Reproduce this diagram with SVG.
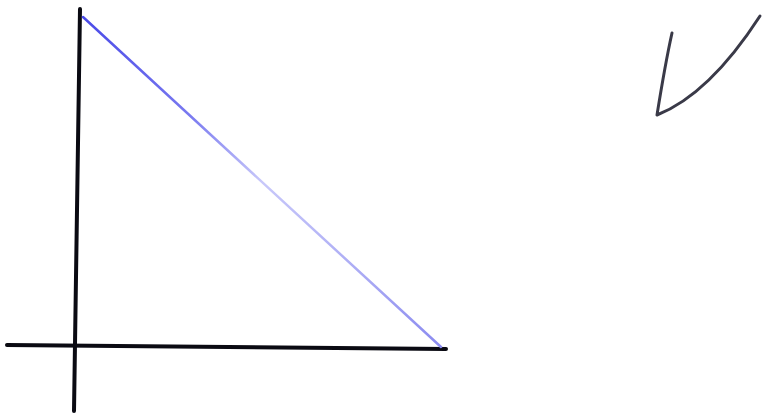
<svg xmlns="http://www.w3.org/2000/svg" width="766" height="415" viewBox="0 0 766 415">
<defs>
<linearGradient id="bl" gradientUnits="userSpaceOnUse" x1="83" y1="17" x2="441" y2="348">
<stop offset="0" stop-color="#4a4ae8"/>
<stop offset="0.3" stop-color="#7a7af0"/>
<stop offset="0.5" stop-color="#c8c8fa"/>
<stop offset="0.8" stop-color="#a8a8f4"/>
<stop offset="1" stop-color="#8a8af0"/>
</linearGradient>
</defs>
<style>
.ax{stroke:#0a0a12;stroke-width:4;stroke-linecap:round;fill:none}
.ck{stroke:#3a3a48;stroke-width:3;stroke-linecap:round;stroke-linejoin:round;fill:none}
</style>
<rect width="766" height="415" fill="#ffffff"/>
<g id="axes">
<path class="ax" d="M80 9 L74 411"/>
<path class="ax" d="M7 345 L446 349"/>
</g>
<g id="diagonal">
<path d="M83 17 L441 347" stroke="url(#bl)" stroke-width="2.5" fill="none" stroke-linecap="round"/>
</g>
<g id="check">
<path class="ck" d="M672 33 C666 60 661 90 657 115 C690 102 725 70 760 16"/>
</g>
</svg>
